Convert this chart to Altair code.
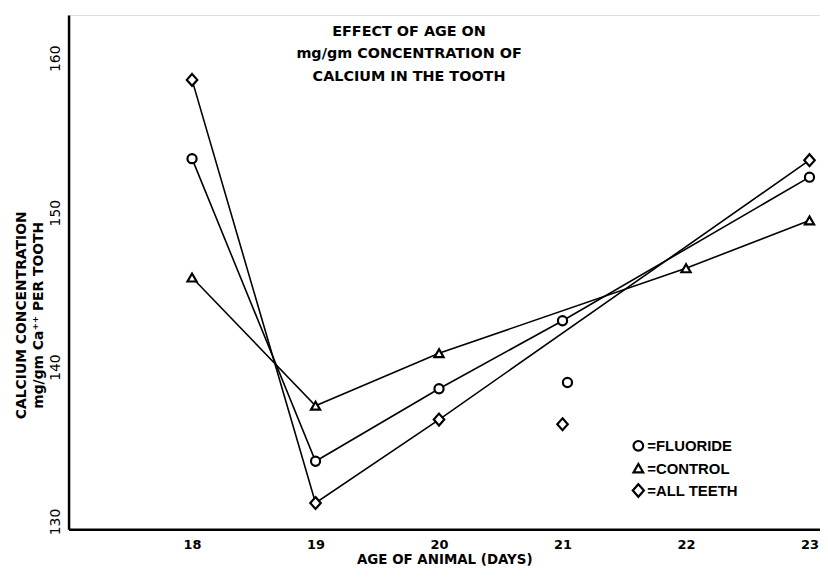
import altair as alt
import pandas as pd

# Data
fluoride_days = [18, 19, 20, 21, 23]
fluoride_vals = [153.5, 133.9, 138.6, 143.0, 152.3]
control_days = [18, 19, 20, 22, 23]
control_vals = [145.8, 137.5, 140.9, 146.4, 149.5]
allteeth_days = [18, 19, 20, 23]
allteeth_vals = [158.6, 131.2, 136.6, 153.4]
# unconnected points at day 21
extra_series = ["FLUORIDE", "ALL TEETH"]
extra_days = [21.04, 21.0]
extra_vals = [139.0, 136.3]

series_order = ["FLUORIDE", "CONTROL", "ALL TEETH"]
legend_labels = ["=FLUORIDE", "=CONTROL", "=ALL TEETH"]
DIAMOND = "M0,-1.3L1.15,0L0,1.3L-1.15,0Z"
shapes = ["circle", "triangle-up", DIAMOND]
x_ticks = [18, 19, 20, 21, 22, 23]
y_ticks = [130, 140, 150, 160]
title_lines = ["EFFECT OF AGE ON", "mg/gm CONCENTRATION OF", "CALCIUM IN THE TOOTH"]

rows = []
for name, days, vals in [("FLUORIDE", fluoride_days, fluoride_vals),
                         ("CONTROL", control_days, control_vals),
                         ("ALL TEETH", allteeth_days, allteeth_vals)]:
    for d, v in zip(days, vals):
        rows.append({"series": name, "day": d, "value": v, "connected": True})
for name, d, v in zip(extra_series, extra_days, extra_vals):
    rows.append({"series": name, "day": d, "value": v, "connected": False})
df = pd.DataFrame(rows)

FONT = "DejaVu Sans"

x_enc = alt.X("day:Q", scale=alt.Scale(domain=[17, 23.085], nice=False, zero=False),
              axis=alt.Axis(values=x_ticks, format="d", title="AGE OF ANIMAL (DAYS)", grid=False,
                            ticks=False, domainWidth=2.5, domainColor="black",
                            labelFont=FONT, labelFontWeight="bold", labelFontSize=13,
                            labelColor="black", labelPadding=9,
                            titleFont=FONT, titleFontWeight="bold", titleFontSize=13.5,
                            titleColor="black", titlePadding=2))
y_enc = alt.Y("value:Q", scale=alt.Scale(domain=[129.5, 162.8], nice=False, zero=False),
              axis=alt.Axis(values=y_ticks, grid=False, ticks=False, domainWidth=2.5,
                            domainColor="black", labelAngle=-90, labelAlign="center",
                            labelBaseline="bottom", labelPadding=6,
                            labelFont=FONT, labelFontWeight="normal", labelFontSize=14,
                            labelColor="black",
                            title=["CALCIUM CONCENTRATION", "mg/gm Ca\u207a\u207a     PER TOOTH"],
                            titleFont=FONT, titleFontWeight="bold", titleFontSize=14,
                            titleColor="black", titleY=302, titlePadding=3,
                            titleLineHeight=17))

lines = alt.Chart(df).transform_filter("datum.connected").mark_line(
    color="black", strokeWidth=1.6).encode(
    x=x_enc, y=y_enc, detail="series:N", order="day:Q")

shape_scale = alt.Scale(domain=series_order, range=shapes)

points = alt.Chart(df).mark_point(filled=False, color="black", fill="white", fillOpacity=1,
                                  strokeWidth=2.2, size=85, opacity=1).encode(
    x="day:Q", y="value:Q",
    shape=alt.Shape("series:N", scale=shape_scale, legend=None))

# hand-drawn legend, as in the original figure
legend_layers = []
for i, (shp, lab) in enumerate(zip(shapes, legend_labels)):
    one = pd.DataFrame({"label": [lab]})
    ypix = 434 + 22.5 * i
    legend_layers.append(
        alt.Chart(one).mark_point(shape=shp, filled=False, color="black", fill="white",
                                  fillOpacity=1, strokeWidth=2.2, size=95, opacity=1).encode(
            x=alt.value(574), y=alt.value(ypix)))
    legend_layers.append(
        alt.Chart(one).mark_text(font="Liberation Sans", fontWeight="bold", fontSize=15,
                                 align="left", baseline="middle", color="black").encode(
            text="label:N", x=alt.value(583), y=alt.value(ypix + 0.5)))

title_df = pd.DataFrame({"t": [title_lines]})
title = alt.Chart(title_df).mark_text(font=FONT, fontWeight="bold", fontSize=14.5,
                                      align="center", baseline="top", lineHeight=22.5,
                                      color="black").encode(
    text="t", x=alt.value(343), y=alt.value(10))

chart = alt.layer(lines, points, title, *legend_layers).properties(
    width=757, height=518,
    autosize=alt.AutoSizeParams(type="none"),
    padding={"left": 61, "top": 5, "right": 0, "bottom": 40}
).configure_view(stroke=None).configure(background="white")

chart.save("out.html", embed_options={"renderer": "svg", "actions": False})
